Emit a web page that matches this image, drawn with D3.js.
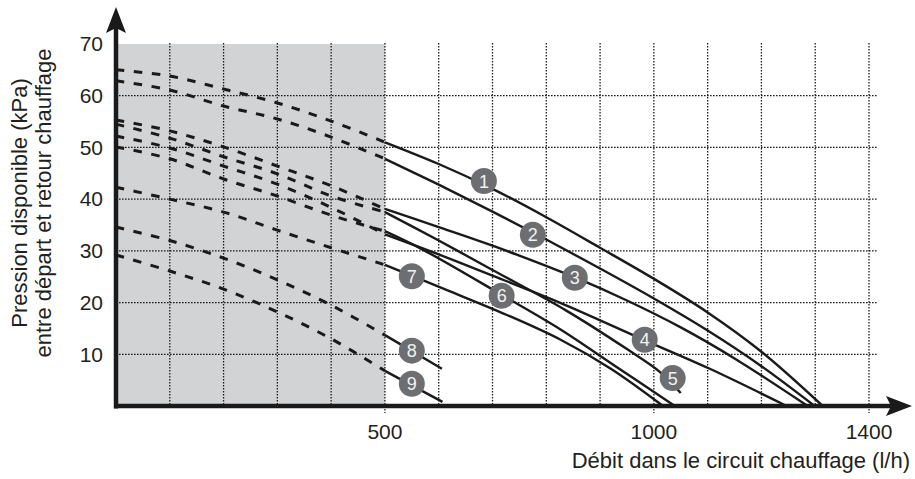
<!DOCTYPE html>
<html>
<head>
<meta charset="utf-8">
<script src="https://cdn.jsdelivr.net/npm/d3@7"></script>
<style>
  body { margin: 0; background: #fff; }
  text { font-family: "Liberation Sans", Arial, sans-serif; fill: #231f20; }
</style>
</head>
<body>
<div id="chart"></div>
<script>
"use strict";

// curves: [débit l/h, pression kPa], dashed below 500 l/h, solid above
const curve1 = [[0, 65], [100, 63.8], [200, 61.3], [300, 58.6], [400, 55.1], [500, 51], [600, 46.8], [700, 42], [800, 36.5], [900, 30.6], [1000, 24.6], [1100, 18.1], [1200, 10.5], [1314, 0]];
const curve2 = [[0, 62.9], [100, 61.1], [200, 58], [300, 55.5], [400, 52], [500, 47.8], [600, 42.8], [700, 37.6], [800, 32.2], [900, 26.6], [1000, 20.8], [1100, 14.6], [1200, 7.7], [1299, 0]];
const curve3 = [[0, 55.3], [100, 53.2], [200, 50.1], [300, 46.4], [400, 42.6], [500, 38.1], [600, 34.6], [700, 31], [850, 25], [950, 20.4], [1050, 15.2], [1150, 9.2], [1286, 0]];
const curve4 = [[0, 52.2], [100, 49.9], [200, 46.4], [300, 42.9], [400, 38.4], [500, 33.2], [600, 29.3], [700, 25.2], [825, 20], [981, 12.8], [1104, 7.2], [1247, 0]];
const curve5 = [[0, 54.5], [100, 51.8], [200, 48.2], [300, 44.9], [400, 40.6], [500, 37.5], [600, 32], [700, 26.3], [838, 18.4], [950, 11], [1011, 6.6], [1050, 2.5]];
const curve6 = [[0, 50.1], [100, 47.8], [200, 43.9], [300, 40.6], [400, 36.9], [500, 33.8], [571, 30.2], [717, 21.5], [825, 14.9], [930, 7.6], [1039, 0]];
const curve7 = [[0, 42.3], [100, 40], [200, 37.5], [300, 34], [400, 30.6], [500, 27.3], [620, 22.2], [727, 17.6], [825, 12.9], [920, 7.2], [1017, 0]];
const curve8 = [[0, 34.6], [100, 32], [200, 28.6], [300, 24.4], [400, 19.5], [500, 13.7], [606, 7.2]];
const curve9 = [[0, 29.2], [100, 26.1], [200, 22.6], [300, 18.2], [400, 13], [500, 6.8], [607, 0.8]];
const curves = [curve1, curve2, curve3, curve4, curve5, curve6, curve7, curve8, curve9];

// numbered markers
const labelNames = ["1", "2", "3", "4", "5", "6", "7", "8", "9"];
const labelFlow = [684, 775, 853, 983, 1035, 717, 550, 550, 550];
const labelPressure = [43.5, 33.1, 24.8, 12.8, 5.4, 21.3, 25.1, 10.7, 4.3];

const yTicks = [10, 20, 30, 40, 50, 60, 70];
const xTicks = [500, 1000, 1400];
const limitFlow = 500;

const width = 915;
const height = 479;

const svg = d3
  .select("#chart")
  .append("svg")
  .attr("width", width)
  .attr("height", height);

const x = d3.scaleLinear().domain([0, 1400]).range([116, 869]);
const y = d3.scaleLinear().domain([0, 70]).range([406, 44]);

///////////////////////////////////
// grey zone and grid
///////////////////////////////////

svg
  .append("rect")
  .attr("x", x(0))
  .attr("y", y(70))
  .attr("width", x(limitFlow) - x(0))
  .attr("height", y(0) - y(70))
  .style("fill", "#d2d3d5");

const grid = svg
  .append("g")
  .style("stroke", "#1e1e1e")
  .style("stroke-width", 1.3)
  .style("stroke-dasharray", "1.6,1.4");

grid
  .selectAll("line.h")
  .data(yTicks.filter((d) => d < 70))
  .enter()
  .append("line")
  .attr("class", "h")
  .attr("x1", x(0))
  .attr("x2", x(1415))
  .attr("y1", (d) => y(d))
  .attr("y2", (d) => y(d));

grid
  .selectAll("line.v")
  .data(d3.range(100, 1500, 100))
  .enter()
  .append("line")
  .attr("class", "v")
  .attr("x1", (d) => x(d))
  .attr("x2", (d) => x(d))
  .attr("y1", y(70) - 1)
  .attr("y2", (d) => (xTicks.includes(d) ? y(0) + 7 : y(0)));

///////////////////////////////////
// curves
///////////////////////////////////

const line = d3
  .line()
  .x((d) => x(d[0]))
  .y((d) => y(d[1]))
  .curve(d3.curveCatmullRom.alpha(0.5));

const curveG = svg.append("g").style("fill", "none");

curveG
  .selectAll("path.dash")
  .data(curves)
  .enter()
  .append("path")
  .attr("class", "dash")
  .attr("d", (c) => line(c.filter((d) => d[0] <= limitFlow)))
  .style("stroke", "#1a1a1a")
  .style("stroke-width", 3)
  .style("stroke-dasharray", "8.5,9.5");

curveG
  .selectAll("path.solid")
  .data(curves)
  .enter()
  .append("path")
  .attr("class", "solid")
  .attr("d", (c) => line(c.filter((d) => d[0] >= limitFlow)))
  .style("stroke", "#1a1a1a")
  .style("stroke-width", 2.4);

///////////////////////////////////
// markers
///////////////////////////////////

const marks = svg
  .selectAll("g.mark")
  .data(labelNames)
  .enter()
  .append("g")
  .attr("class", "mark")
  .attr("transform", (d, i) => `translate(${x(labelFlow[i])},${y(labelPressure[i])})`);

marks.append("circle").attr("r", 13).style("fill", "#6d6e71");
marks
  .append("text")
  .attr("text-anchor", "middle")
  .attr("dy", "0.36em")
  .style("font-size", "18px")
  .style("fill", "#f2f2f2")
  .text((d) => d);

///////////////////////////////////
// axes
///////////////////////////////////

svg
  .append("line")
  .attr("x1", x(0))
  .attr("x2", x(0))
  .attr("y1", y(0) + 2.5)
  .attr("y2", 26)
  .style("stroke", "#1a1a1a")
  .style("stroke-width", 4.5);
svg
  .append("path")
  .attr("d", `M${x(0)},7 L${x(0) + 10},33 L${x(0)},28 L${x(0) - 10},33 Z`)
  .style("fill", "#1a1a1a");

svg
  .append("line")
  .attr("x1", x(0) - 2)
  .attr("x2", 895)
  .attr("y1", y(0))
  .attr("y2", y(0))
  .style("stroke", "#1a1a1a")
  .style("stroke-width", 4.5);
svg
  .append("path")
  .attr("d", `M912,${y(0)} L886,${y(0) - 10} L891,${y(0)} L886,${y(0) + 10} Z`)
  .style("fill", "#1a1a1a");

svg
  .selectAll("text.ytick")
  .data(yTicks)
  .enter()
  .append("text")
  .attr("class", "ytick")
  .attr("x", 103)
  .attr("y", (d) => y(d))
  .attr("dy", "0.35em")
  .attr("text-anchor", "end")
  .style("font-size", "21px")
  .text((d) => d);

svg
  .selectAll("text.xtick")
  .data(xTicks)
  .enter()
  .append("text")
  .attr("class", "xtick")
  .attr("x", (d) => x(d))
  .attr("y", 439)
  .attr("text-anchor", "middle")
  .style("font-size", "21px")
  .text((d) => d);

svg
  .append("text")
  .attr("x", 910)
  .attr("y", 468)
  .attr("text-anchor", "end")
  .style("font-size", "22px")
  .text("Débit dans le circuit chauffage (l/h)");

const yTitle = svg
  .append("text")
  .attr("transform", "translate(0,203) rotate(-90)")
  .attr("text-anchor", "middle")
  .style("font-size", "22px");
yTitle.append("tspan").attr("x", 0).attr("y", 27).text("Pression disponible (kPa)");
yTitle.append("tspan").attr("x", 0).attr("y", 51).text("entre départ et retour chauffage");
</script>
</body>
</html>
